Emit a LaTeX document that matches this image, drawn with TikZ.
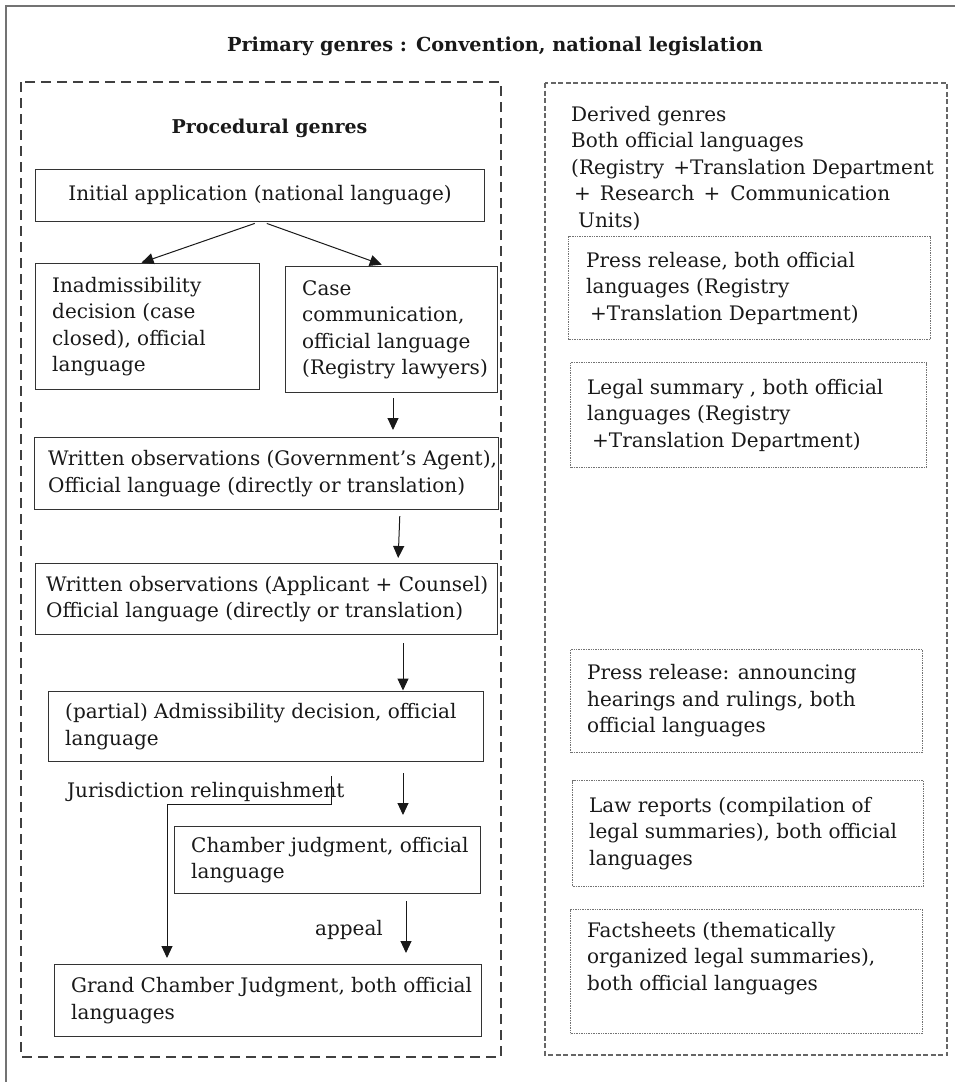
\documentclass[tikz,border=0pt]{standalone}
\usepackage{fontspec}
\setmainfont{DejaVu Serif}
\usetikzlibrary{arrows.meta}
\begin{document}
\begin{tikzpicture}[x=1pt,y=-1pt,
  font=\fontsize{20}{26.5}\selectfont,
  every node/.style={text=black!90},
  pbox/.style={draw=black!80, line width=1.1pt, anchor=north west, inner sep=0pt},
  dbox/.style={draw=black!55, line width=1pt, dash pattern=on 1pt off 0.7pt, anchor=north west, inner sep=0pt},
  txt/.style={anchor=west, align=left, inner sep=0pt, text=black!90},
  arr/.style={-{Triangle[length=12pt,width=11pt]}, line width=1pt, draw=black!90},
  ldash/.style={draw=black!75, line width=1.2pt, dash pattern=on 10pt off 6pt},
  rdash/.style={draw=black!60, line width=1.2pt, dash pattern=on 5pt off 2.5pt},
  ttl/.style={font=\fontsize{19.3}{24}\selectfont\bfseries, inner sep=0pt, anchor=base}
]
\useasboundingbox (0,0) rectangle (955,1082);
% outer frame (continues beyond the page on the right and bottom)
\draw[draw=black!55, line width=1.6pt] (6,1100) -- (6,6) -- (975,6);
% containers
\draw[ldash] (21,82) rectangle (501,1057);
\draw[rdash] (545,83) rectangle (947,1055);

% titles
\node[ttl] (title) at (495,51) {Primary genres : Convention, national legislation};
\node[ttl, font=\fontsize{19}{24}\selectfont\bfseries] (proc) at (269.5,133) {Procedural genres};

% procedural boxes
\node[pbox, minimum width=449pt, minimum height=52pt] (init) at (35,169) {Initial application (national language)};
\node[pbox, minimum width=224pt, minimum height=126pt,
  label={[txt,xshift=17pt]west:{Inadmissibility\\decision (case\\closed), official\\language}}] (inad) at (35,263) {};
\node[pbox, minimum width=212pt, minimum height=126pt,
  label={[txt,xshift=17pt]west:{Case\\communication,\\official language\\(Registry lawyers)}}] (case) at (285,266) {};
\node[pbox, minimum width=464pt, minimum height=72pt,
  label={[txt,xshift=14pt]west:{Written observations (Government’s Agent),\\Official language (directly or translation)}}] (gov) at (34,437) {};
\node[pbox, minimum width=462pt, minimum height=71pt,
  label={[txt,xshift=11pt]west:{Written observations (Applicant + Counsel)\\Official language (directly or translation)}}] (app) at (35,563) {};
\node[pbox, minimum width=435pt, minimum height=70pt,
  label={[txt,xshift=17pt]west:{(partial) Admissibility decision, official\\language}}] (adm) at (48,691) {};
\node[pbox, minimum width=306pt, minimum height=67pt,
  label={[txt,xshift=17pt]west:{Chamber judgment, official\\language}}] (cham) at (174,826) {};
\node[pbox, minimum width=427pt, minimum height=72pt,
  label={[txt,xshift=17pt]west:{Grand Chamber Judgment, both official\\languages}}] (grand) at (54,964) {};

% connector labels
\node[anchor=base west, inner sep=0pt] (jl) at (67,797) {Jurisdiction relinquishment};
\node[anchor=base west, inner sep=0pt] (ap) at (315,935) {appeal};

% derived genres
\node[anchor=north west, align=left, inner sep=0pt] (dg) at (571,106)
  {Derived genres\\Both official languages\\(Registry\hspace{9pt}+Translation Department\\\hspace*{3pt}+\hspace{9pt}Research\hspace{9pt}+\hspace{10pt}Communication\\\hspace*{7pt}Units)};
\node[dbox, minimum width=362pt, minimum height=103pt,
  label={[txt,xshift=18pt]west:{Press release, both official\\languages (Registry\\\hspace*{4pt}+Translation Department)}}] (pr1) at (568,236) {};
\node[dbox, minimum width=356pt, minimum height=105pt,
  label={[txt,xshift=17pt]west:{Legal summary , both official\\languages (Registry\\\hspace*{5pt}+Translation Department)}}] (ls) at (570,362) {};
\node[dbox, minimum width=352pt, minimum height=103pt,
  label={[txt,xshift=17pt]west:{Press release: announcing\\hearings and rulings, both\\official languages}}] (pr2) at (570,649) {};
\node[dbox, minimum width=351pt, minimum height=106pt,
  label={[txt,xshift=17pt]west:{Law reports (compilation of\\legal summaries), both official\\languages}}] (lr) at (572,780) {};
\node[dbox, minimum width=352pt, minimum height=124pt,
  label={[txt,xshift=17pt,yshift=13pt]west:{Factsheets (thematically\\organized legal summaries),\\both official languages}}] (fs) at (570,909) {};

% connector x positions
\coordinate (xa) at (393,0);
\coordinate (xb) at (400,0);
\coordinate (xc) at (398,0);
\coordinate (xd) at (403,0);
\coordinate (xe) at (406,0);
\coordinate (xj) at (331,0);
\coordinate (xk) at (167,0);

% connectors
\draw[arr, shorten <=4pt, shorten >=1pt] ([xshift=-1.5pt]init.south) -- ([xshift=-7pt]inad.north);
\draw[arr, shorten <=4pt, shorten >=4pt] ([xshift=3pt]init.south) -- ([xshift=-6pt]case.north);
\draw[arr, shorten <=5pt, shorten >=7pt] (case.south -| xa) -- (gov.north -| xa);
\draw[arr, shorten <=6pt, shorten >=5pt] (gov.south -| xb) -- (app.north -| xc);
\draw[arr, shorten <=8pt, shorten >=0.5pt] (app.south -| xd) -- (adm.north -| xd);
\draw[arr, shorten <=11pt, shorten >=11pt] (adm.south -| xd) -- (cham.north -| xd);
\draw[arr, shorten <=7pt, shorten >=11pt] (cham.south -| xe) -- (grand.north -| xe);
\draw[arr] ([yshift=-14pt]adm.south -| xj) -- ([yshift=-42pt]adm.south -| xj) -| ([yshift=6pt]grand.north -| xk);
\end{tikzpicture}
\end{document}
